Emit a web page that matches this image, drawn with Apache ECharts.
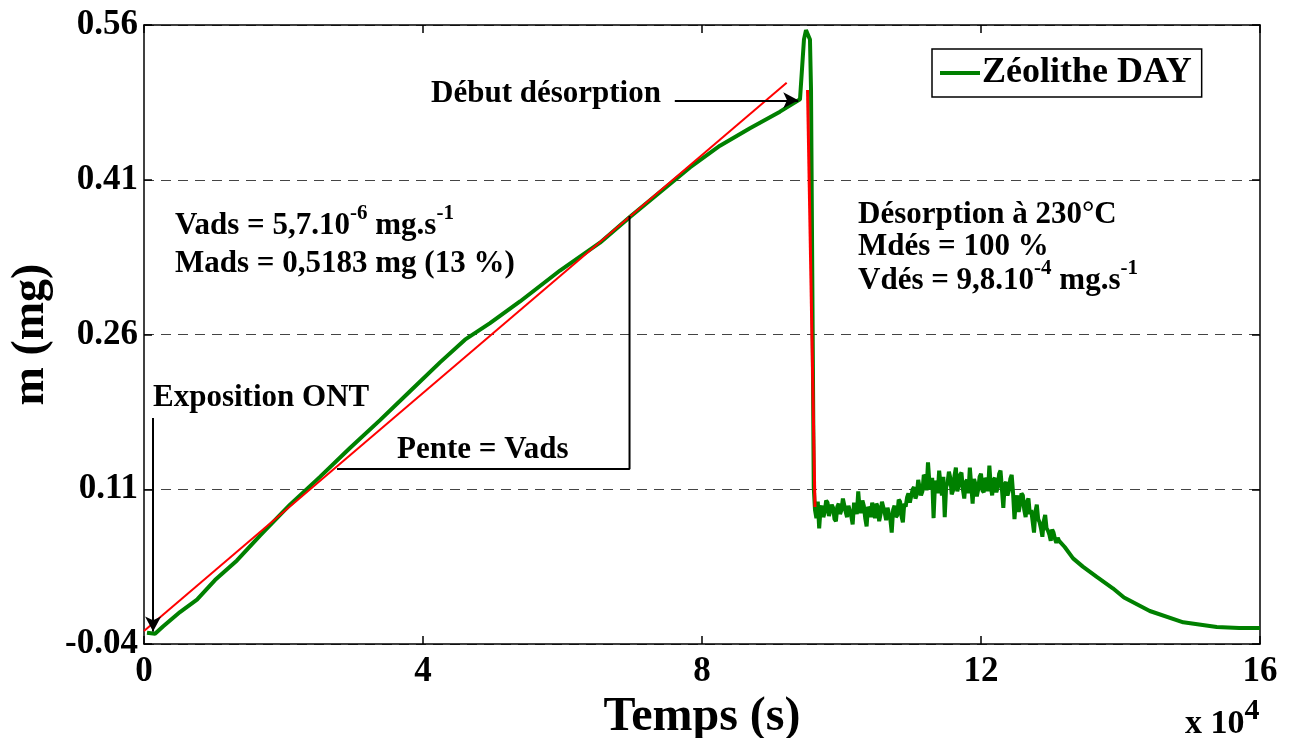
<!DOCTYPE html>
<html>
<head>
<meta charset="utf-8">
<style>
  html, body { margin: 0; padding: 0; background: #fff; }
  #chart { width: 1289px; height: 738px; }
</style>
<script src="https://cdn.jsdelivr.net/npm/echarts@6/dist/echarts.min.js"></script>
</head>
<body>
<div id="chart"></div>
<script>
// temps en 1e4 s, masse en mg
const xTicks = [0, 4, 8, 12, 16];
const yTicks = [-0.04, 0.11, 0.26, 0.41, 0.56];

// montée (adsorption) + pic de désorption
const adsTime = [0.043, 0.158, 0.272, 0.516, 0.760, 1.018, 1.333, 1.663, 2.093, 2.523, 2.953, 3.384, 3.814, 4.244, 4.602, 4.961, 5.391, 5.964, 6.538, 6.968, 7.398, 7.828, 8.258, 8.688, 9.118, 9.405, 9.462, 9.491, 9.548, 9.563, 9.602, 9.620];
const adsMass = [-0.029, -0.030, -0.023, -0.009, 0.003, 0.022, 0.041, 0.065, 0.095, 0.122, 0.150, 0.177, 0.205, 0.233, 0.255, 0.271, 0.292, 0.322, 0.349, 0.374, 0.398, 0.422, 0.443, 0.460, 0.476, 0.488, 0.546, 0.555, 0.546, 0.497, 0.112, 0.090];

// palier bruité après désorption (pas de 0.02)
const desStart = 9.64;
const desStep = 0.02;
const desMass = [
  0.082, 0.098, 0.072, 0.091, 0.094, 0.083, 0.088, 0.099, 0.097, 0.084, 0.085, 0.095, 0.092, 0.081, 0.079, 0.093, 0.096, 0.086, 0.090, 0.101,
  0.100, 0.088, 0.083, 0.094, 0.095, 0.084, 0.076, 0.097, 0.092, 0.086, 0.108, 0.091, 0.087, 0.099, 0.094, 0.082, 0.074, 0.093, 0.090, 0.083,
  0.097, 0.088, 0.082, 0.096, 0.093, 0.079, 0.086, 0.098, 0.099, 0.087, 0.080, 0.092, 0.091, 0.081, 0.068, 0.090, 0.094, 0.083, 0.085, 0.100,
  0.098, 0.084, 0.078, 0.096, 0.093, 0.102, 0.106,
  0.097, 0.098, 0.110, 0.112, 0.101, 0.105, 0.119, 0.118, 0.104, 0.108, 0.124, 0.122, 0.109, 0.136, 0.117, 0.110, 0.121, 0.082, 0.114, 0.118,
  0.106, 0.128, 0.115, 0.104, 0.122, 0.083, 0.112, 0.116, 0.127, 0.121, 0.105, 0.109, 0.123, 0.131, 0.108, 0.113, 0.124, 0.126, 0.110, 0.101,
  0.117, 0.119, 0.106, 0.131, 0.114, 0.096, 0.120, 0.115, 0.103, 0.110, 0.122, 0.125, 0.109, 0.107, 0.121, 0.118, 0.108, 0.133, 0.113, 0.104,
  0.119, 0.121, 0.107, 0.112, 0.125, 0.128, 0.110, 0.092, 0.115, 0.117, 0.104, 0.109, 0.120, 0.124, 0.106, 0.081,
  0.099, 0.104, 0.088, 0.095, 0.106, 0.104, 0.090, 0.083, 0.098, 0.101, 0.086, 0.090, 0.079, 0.068, 0.088, 0.095, 0.081, 0.078, 0.072, 0.064,
  0.079, 0.085, 0.072, 0.070, 0.066, 0.060, 0.071, 0.068, 0.062, 0.058, 0.063, 0.060
];
const desTime = desMass.map((_, i) => +(desStart + i * desStep).toFixed(2));

// retour à la ligne de base
const tailTime = [13.20, 13.32, 13.46, 13.66, 13.89, 14.05, 14.42, 14.90, 15.38, 15.70, 16.00];
const tailMass = [0.054, 0.043, 0.035, 0.025, 0.014, 0.005, -0.008, -0.019, -0.0235, -0.0245, -0.0245];

// droites d'ajustement (rouge)
const fitAdsTime = [0, 9.214];
const fitAdsMass = [-0.0274, 0.504];
const fitDesTime = [9.513, 9.620];
const fitDesMass = [0.497, 0.0928];

// triangle de pente et flèches [x1, y1, x2, y2]
const slopeTime = [2.767, 6.961, 6.961];
const slopeMass = [0.1296, 0.1296, 0.3748];
const arrows = [
  [0.13, 0.179, 0.13, -0.028],
  [7.61, 0.487, 9.38, 0.487]
];

// l'axe y part de -0.04 : on décale pour que min soit multiple de l'intervalle
const SHIFT = 0.04;
const pts = (t, m) => t.map((v, i) => [v, m[i] + SHIFT]);

const FONT = '"Liberation Serif", "Times New Roman", serif';
const green = '#008000';

const greenData = pts(adsTime, adsMass).concat(pts(desTime, desMass), pts(tailTime, tailMass));

const rich = {
  b: { fontSize: 31, fontWeight: 'bold', fontFamily: FONT, lineHeight: 44, fill: '#000' },
  s: { fontSize: 21, fontWeight: 'bold', fontFamily: FONT, verticalAlign: 'top', fill: '#000' }
};
const txt = (left, top, text, size) => ({
  type: 'text', left, top, silent: true,
  style: { text, font: 'bold ' + (size || 31) + 'px ' + FONT, fill: '#000', rich }
});

const frame = { onZero: false, lineStyle: { color: '#000', width: 1.5 } };
const tick = { inside: true, length: 8, lineStyle: { color: '#000', width: 1.5 } };
const tickFont = { fontFamily: FONT, fontWeight: 'bold', fontSize: 35, color: '#000' };

const chart = echarts.init(document.getElementById('chart'));

const option = {
  animation: false,
  backgroundColor: '#fff',
  grid: { left: 144, right: 29, top: 25, bottom: 94, containLabel: false, outerBoundsMode: 'none' },
  legend: {
    data: ['Zéolithe DAY'],
    left: 932, top: 49,
    padding: [6, 10, 6, 8],
    borderColor: '#000', borderWidth: 1.5,
    icon: 'rect',
    itemWidth: 40, itemHeight: 4,
    itemStyle: { color: green },
    textStyle: { fontFamily: FONT, fontWeight: 'bold', fontSize: 36, color: '#000', padding: [0, 0, 0, -3] }
  },
  xAxis: [
    {
      type: 'value', min: 0, max: 16, interval: 4,
      name: 'Temps (s)', nameLocation: 'middle', nameGap: 33,
      nameTextStyle: { fontFamily: FONT, fontWeight: 'bold', fontSize: 48, color: '#000' },
      axisLine: frame,
      axisTick: tick,
      axisLabel: Object.assign({ margin: 10 }, tickFont),
      splitLine: { show: false }
    },
    {
      type: 'value', min: 0, max: 16, interval: 4, position: 'top',
      axisLine: frame,
      axisTick: tick,
      axisLabel: { show: false },
      splitLine: { show: false }
    }
  ],
  yAxis: [
    {
      type: 'value', min: 0, max: 0.6, interval: 0.15,
      name: 'm (mg)', nameLocation: 'middle', nameGap: 90,
      nameTextStyle: { fontFamily: FONT, fontWeight: 'bold', fontSize: 46, color: '#000' },
      axisLine: Object.assign({ show: true }, frame),
      axisTick: Object.assign({ show: true }, tick),
      axisLabel: Object.assign({ margin: 6, formatter: v => (v - SHIFT).toFixed(2) }, tickFont),
      splitLine: { show: true, lineStyle: { color: '#444', width: 1.2, type: [10, 7] } }
    },
    {
      type: 'value', min: 0, max: 0.6, interval: 0.15, position: 'right',
      axisLine: Object.assign({ show: true }, frame),
      axisTick: Object.assign({ show: true }, tick),
      axisLabel: { show: false },
      splitLine: { show: false }
    }
  ],
  series: [
    {
      name: 'Zéolithe DAY', type: 'line', symbol: 'none', z: 2,
      data: greenData,
      lineStyle: { color: green, width: 4 },
      itemStyle: { color: green }
    },
    {
      name: 'fitAds', type: 'line', symbol: 'none', z: 3,
      data: pts(fitAdsTime, fitAdsMass),
      lineStyle: { color: '#ff0000', width: 2 }
    },
    {
      name: 'fitDes', type: 'line', symbol: 'none', z: 3,
      data: pts(fitDesTime, fitDesMass),
      lineStyle: { color: '#ff0000', width: 3 }
    },
    {
      name: 'pente', type: 'line', symbol: 'none', z: 4,
      data: pts(slopeTime, slopeMass),
      lineStyle: { color: '#000', width: 2 },
      markLine: {
        silent: true,
        symbol: ['none', 'arrow'],
        symbolSize: [12, 15],
        label: { show: false },
        lineStyle: { color: '#000', width: 2, type: 'solid' },
        data: arrows.map(a => [{ coord: [a[0], a[1] + SHIFT] }, { coord: [a[2], a[3] + SHIFT] }])
      }
    }
  ],
  graphic: [
    txt(431, 78, 'Début désorption'),
    txt(175, 203.5, '{b|Vads = 5,7.10}{s|-6}{b| mg.s}{s|-1}'),
    txt(175, 248, 'Mads = 0,5183 mg (13 %)'),
    txt(153, 382, 'Exposition ONT'),
    txt(397, 434, 'Pente = Vads'),
    txt(858, 199, 'Désorption à 230°C'),
    txt(858, 231, 'Mdés = 100 %'),
    txt(858, 258.5, '{b|Vdés = 9,8.10}{s|-4}{b| mg.s}{s|-1}'),
    {
      type: 'text', left: 1185, top: 696.6, silent: true,
      style: {
        text: '{b|x 10}{s|4}',
        rich: {
          b: { fontSize: 34, fontWeight: 'bold', fontFamily: FONT, lineHeight: 56, fill: '#000' },
          s: { fontSize: 30, fontWeight: 'bold', fontFamily: FONT, verticalAlign: 'top', fill: '#000' }
        }
      }
    }
  ]
};

chart.setOption(option);
</script>
</body>
</html>
